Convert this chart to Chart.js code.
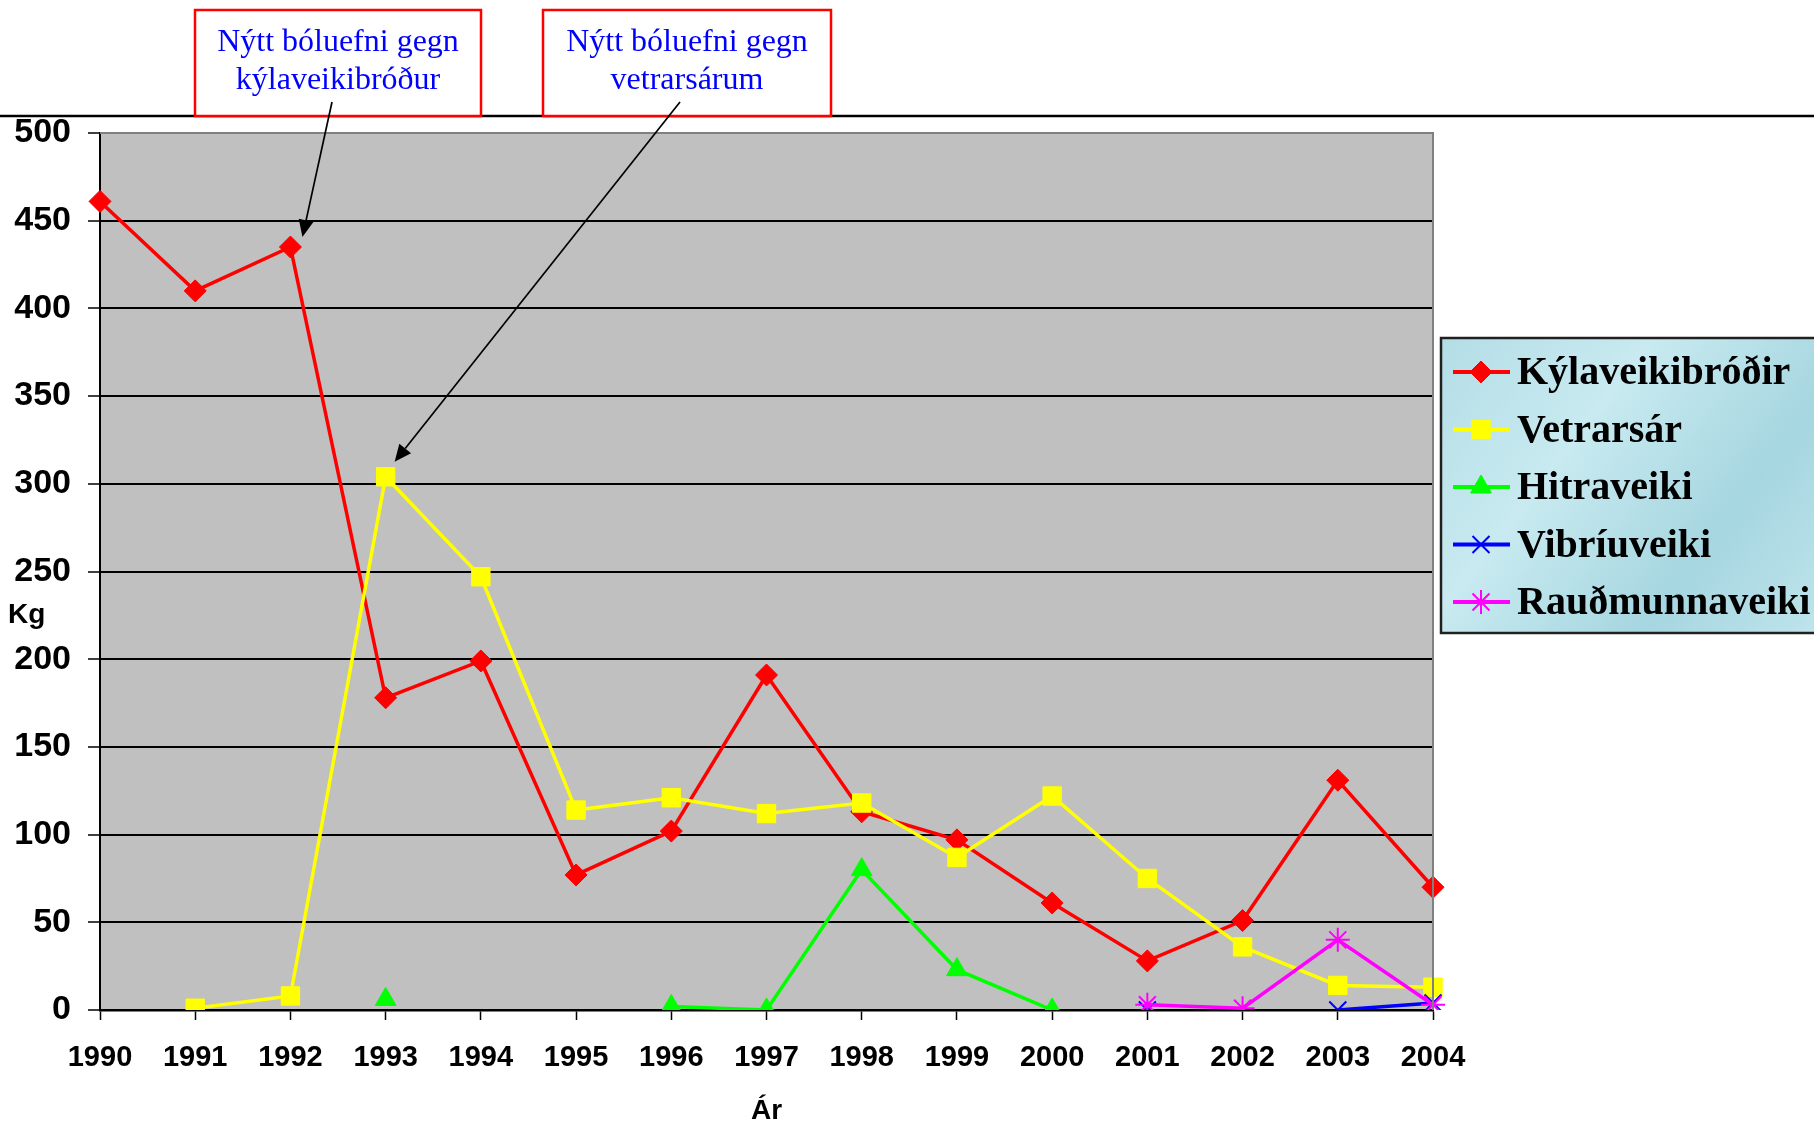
<!DOCTYPE html>
<html>
<head>
<meta charset="utf-8">
<script src="https://cdn.jsdelivr.net/npm/chart.js@4/dist/chart.umd.min.js"></script>
<style>
	body { margin: 0; background: #ffffff; }
	#chart-canvas { display: block; }
</style>
</head>
<body>
<canvas id="chart-canvas" width="1814" height="1125"></canvas>
<script>
// years on the x axis
const years = ["1990", "1991", "1992", "1993", "1994", "1995", "1996", "1997", "1998", "1999", "2000", "2001", "2002", "2003", "2004"];

// kg per disease (null = no value that year)
const kylaveikibrodir = [461, 410, 435, 178, 199, 77, 102, 191, 113, 97, 61, 28, 51, 131, 70];
const vetrarsar = [null, 1, 8, 304, 247, 114, 121, 112, 118, 87, 122, 75, 36, 14, 13];
const hitraveiki = [null, null, null, 6, null, null, 2, 0, 80, 23, 0, null, null, null, null];
const vibriuveiki = [null, null, null, null, null, null, null, null, null, null, null, 0, null, 0, 4];
const raudmunnaveiki = [null, null, null, null, null, null, null, null, null, null, null, 3, 1, 40, 3];

const yTicks = [0, 50, 100, 150, 200, 250, 300, 350, 400, 450, 500];

const seriesNames = ["Kýlaveikibróðir", "Vetrarsár", "Hitraveiki", "Vibríuveiki", "Rauðmunnaveiki"];

// annotation boxes, each pointing at a data point (index into years, value)
const notes = [
	{ lines: ["Nýtt bóluefni gegn", "kýlaveikibróður"], target: { index: 2, value: 435 } },
	{ lines: ["Nýtt bóluefni gegn", "vetrarsárum"], target: { index: 3, value: 304 } }
];

const sansFont = "'Liberation Sans', Arial, sans-serif";
const serifFont = "'Liberation Serif', 'Times New Roman', serif";

function makeSet(label, data, color, style, radius, order)
{
	let stroked = (style == "crossRot" || style == "star");
	return {
		label: label,
		data: data,
		borderColor: color,
		backgroundColor: color,
		borderWidth: 3.5,
		pointStyle: style,
		pointRadius: radius,
		pointBorderWidth: stroked ? 2 : 1,
		pointBackgroundColor: color,
		pointBorderColor: color,
		spanGaps: false,
		tension: 0,
		order: order
	};
}

const datasets = [
	makeSet(seriesNames[0], kylaveikibrodir, "#ff0000", "rectRot", 11, 5),
	makeSet(seriesNames[1], vetrarsar, "#ffff00", "rect", 13, 4),
	makeSet(seriesNames[2], hitraveiki, "#00ff00", "triangle", 12, 3),
	makeSet(seriesNames[3], vibriuveiki, "#0000ff", "crossRot", 12, 2),
	makeSet(seriesNames[4], raudmunnaveiki, "#ff00ff", "star", 12, 1)
];

function drawArrow(ctx, x0, y0, x1, y1)
{
	let ang = Math.atan2(y1 - y0, x1 - x0);
	let len = 17, half = 7.5;
	let bx = x1 - Math.cos(ang) * len, by = y1 - Math.sin(ang) * len;
	ctx.strokeStyle = "#000000";
	ctx.lineWidth = 1.7;
	ctx.beginPath();
	ctx.moveTo(x0, y0);
	ctx.lineTo(bx, by);
	ctx.stroke();
	ctx.fillStyle = "#000000";
	ctx.beginPath();
	ctx.moveTo(x1, y1);
	ctx.lineTo(bx - Math.sin(ang) * half, by + Math.cos(ang) * half);
	ctx.lineTo(bx + Math.sin(ang) * half, by - Math.cos(ang) * half);
	ctx.closePath();
	ctx.fill();
}

const decorPlugin = {
	id: "decor",
	beforeDraw(chart)
	{
		let ctx = chart.ctx, a = chart.chartArea;
		ctx.save();
		ctx.fillStyle = "#c0c0c0";
		ctx.fillRect(a.left, a.top, a.right - a.left, a.bottom - a.top);
		ctx.restore();
	},
	afterDatasetsDraw(chart)
	{
		let ctx = chart.ctx, a = chart.chartArea;
		ctx.save();
		// gray frame on top and right of the plot
		ctx.strokeStyle = "#808080";
		ctx.lineWidth = 2;
		ctx.beginPath();
		ctx.moveTo(a.left, a.top);
		ctx.lineTo(a.right, a.top);
		ctx.lineTo(a.right, a.bottom);
		ctx.stroke();
		ctx.restore();
	},
	afterDraw(chart)
	{
		let ctx = chart.ctx, a = chart.chartArea;
		let xs = chart.scales.x, ys = chart.scales.y;
		ctx.save();

		// rule across the top
		ctx.strokeStyle = "#000000";
		ctx.lineWidth = 2.5;
		ctx.beginPath();
		ctx.moveTo(0, 116);
		ctx.lineTo(chart.width, 116);
		ctx.stroke();

		// annotation boxes with arrows
		let boxes = [{ left: 195, right: 481 }, { left: 543, right: 831 }];
		let tipOffsets = [{ dx: 12, dy: -10 }, { dx: 9, dy: -15 }];
		for(let i = 0; i < notes.length; i++)
		{
			let b = boxes[i];
			let cx = (b.left + b.right) / 2;
			ctx.fillStyle = "#ffffff";
			ctx.fillRect(b.left, 10, b.right - b.left, 106);
			ctx.strokeStyle = "#ff0000";
			ctx.lineWidth = 2.5;
			ctx.strokeRect(b.left, 10, b.right - b.left, 106);
			ctx.fillStyle = "#0000ff";
			ctx.font = "32px " + serifFont;
			ctx.textAlign = "center";
			ctx.textBaseline = "middle";
			ctx.fillText(notes[i].lines[0], cx, 43);
			ctx.fillText(notes[i].lines[1], cx, 81);
			let tx = xs.getPixelForValue(notes[i].target.index) + tipOffsets[i].dx;
			let ty = ys.getPixelForValue(notes[i].target.value) + tipOffsets[i].dy;
			drawArrow(ctx, i == 0 ? 332 : 680, 102, tx, ty);
		}

		// axis titles
		ctx.fillStyle = "#000000";
		ctx.font = "bold 28px " + sansFont;
		ctx.textAlign = "left";
		ctx.textBaseline = "middle";
		ctx.fillText("Kg", 8, 615);
		ctx.textAlign = "center";
		ctx.fillText("Ár", (a.left + a.right) / 2, 1111);

		// legend box
		let lx = 1441, ly = 338, lw = 400, lh = 295;
		let grad = ctx.createLinearGradient(lx, ly, lx + 380, ly + lh);
		grad.addColorStop(0, "#b4dde6");
		grad.addColorStop(0.35, "#c8eaf0");
		grad.addColorStop(0.7, "#a6d6e0");
		grad.addColorStop(1, "#bfe4ec");
		ctx.fillStyle = grad;
		ctx.fillRect(lx, ly, lw, lh);
		ctx.strokeStyle = "#202020";
		ctx.lineWidth = 2.5;
		ctx.strokeRect(lx, ly, lw, lh);
		ctx.font = "bold 40px " + serifFont;
		ctx.textAlign = "left";
		ctx.textBaseline = "middle";
		for(let i = 0; i < datasets.length; i++)
		{
			let ds = datasets[i];
			let ry = 372 + i * 57.5;
			ctx.strokeStyle = ds.borderColor;
			ctx.lineWidth = 4;
			ctx.beginPath();
			ctx.moveTo(1453, ry);
			ctx.lineTo(1510, ry);
			ctx.stroke();
			ctx.fillStyle = ds.backgroundColor;
			ctx.lineWidth = ds.pointBorderWidth;
			Chart.helpers.drawPoint(ctx, { pointStyle: ds.pointStyle, radius: ds.pointRadius, rotation: 0, borderWidth: ds.pointBorderWidth }, 1481, ry);
			ctx.fillStyle = "#000000";
			ctx.fillText(ds.label, 1517, ry + 2);
		}
		ctx.restore();
	}
};

new Chart(document.getElementById("chart-canvas").getContext("2d"),
{
	type: "line",
	data:
	{
		labels: years,
		datasets: datasets
	},
	plugins: [decorPlugin],
	options:
	{
		responsive: false,
		animation: false,
		devicePixelRatio: 1,
		layout: { padding: { left: 0, top: 133, right: 381, bottom: 0 } },
		plugins:
		{
			legend: { display: false },
			tooltip: { enabled: false }
		},
		scales:
		{
			x:
			{
				offset: false,
				afterFit: (scale) => { scale.height = 115; },
				grid:
				{
					drawOnChartArea: false,
					drawTicks: true,
					tickLength: 10,
					tickColor: "#000000",
					tickWidth: 1.5
				},
				border: { display: true, color: "#000000", width: 2.5 },
				ticks:
				{
					color: "#000000",
					padding: 21,
					maxRotation: 0,
					autoSkip: false,
					font: { family: sansFont, size: 29, weight: "bold" }
				}
			},
			y:
			{
				min: 0,
				max: 500,
				afterFit: (scale) => { scale.width = 100; },
				afterBuildTicks: (scale) => { scale.ticks = yTicks.map(v => ({ value: v })); },
				grid:
				{
					color: (c) => c.tick && c.tick.value == 500 ? "#808080" : "#000000",
					lineWidth: 2,
					tickLength: 12,
					tickColor: "#000000",
					tickWidth: 1.5
				},
				border: { display: true, color: "#000000", width: 2 },
				ticks:
				{
					color: "#000000",
					padding: 17,
					font: { family: sansFont, size: 34, weight: "bold" }
				}
			}
		}
	}
});
</script>
</body>
</html>
